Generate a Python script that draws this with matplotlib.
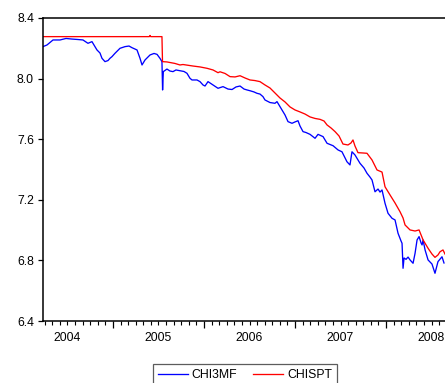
import matplotlib
matplotlib.use("Agg")
import matplotlib.pyplot as plt
import numpy as np

# ---- data (decimal years) ----
chi3mf_t = [2004.231, 2004.275, 2004.341, 2004.418, 2004.484, 2004.549, 2004.615, 2004.670,
            2004.725, 2004.769, 2004.824, 2004.857, 2004.879, 2004.912, 2004.945, 2004.967,
            2004.989, 2005.022, 2005.077, 2005.132, 2005.176, 2005.209, 2005.264, 2005.297,
            2005.319, 2005.352, 2005.407, 2005.451, 2005.484, 2005.516, 2005.538, 2005.545,
            2005.553, 2005.593, 2005.626, 2005.659, 2005.692, 2005.736, 2005.780, 2005.813,
            2005.846, 2005.868, 2005.923, 2005.956, 2005.989, 2006.011, 2006.044, 2006.099,
            2006.154, 2006.209, 2006.264, 2006.308, 2006.352, 2006.396, 2006.440, 2006.473,
            2006.505, 2006.549, 2006.582, 2006.615, 2006.648, 2006.670, 2006.725, 2006.780,
            2006.802, 2006.835, 2006.868, 2006.890, 2006.923, 2006.967, 2007.000, 2007.033,
            2007.055, 2007.088, 2007.121, 2007.165, 2007.220, 2007.253, 2007.308, 2007.352,
            2007.418, 2007.473, 2007.516, 2007.571, 2007.604, 2007.626, 2007.659, 2007.714,
            2007.758, 2007.791, 2007.824, 2007.846, 2007.879, 2007.912, 2007.934, 2007.956,
            2007.989, 2008.022, 2008.066, 2008.099, 2008.132, 2008.165, 2008.176, 2008.187,
            2008.198, 2008.220, 2008.242, 2008.264, 2008.297, 2008.319, 2008.341, 2008.363,
            2008.385, 2008.396, 2008.407, 2008.429, 2008.462, 2008.505, 2008.538, 2008.571,
            2008.615, 2008.637]
chi3mf_v = [8.211, 8.222, 8.255, 8.255, 8.265, 8.261, 8.258, 8.255,
            8.233, 8.244, 8.189, 8.169, 8.134, 8.112, 8.119, 8.134,
            8.145, 8.167, 8.200, 8.211, 8.215, 8.204, 8.189, 8.134,
            8.090, 8.123, 8.156, 8.166, 8.160, 8.134, 8.112, 7.925,
            8.046, 8.063, 8.050, 8.046, 8.057, 8.052, 8.047, 8.035,
            8.002, 7.991, 7.991, 7.980, 7.958, 7.951, 7.980, 7.958,
            7.936, 7.947, 7.931, 7.928, 7.945, 7.951, 7.931, 7.925,
            7.920, 7.912, 7.903, 7.898, 7.881, 7.859, 7.842, 7.837,
            7.848, 7.815, 7.782, 7.760, 7.716, 7.705, 7.714, 7.722,
            7.687, 7.650, 7.644, 7.632, 7.606, 7.632, 7.617, 7.573,
            7.557, 7.529, 7.517, 7.451, 7.430, 7.517, 7.496, 7.441,
            7.410, 7.375, 7.350, 7.331, 7.253, 7.271, 7.251, 7.265,
            7.177, 7.111, 7.078, 7.067, 6.979, 6.928, 6.913, 6.748,
            6.816, 6.807, 6.822, 6.803, 6.781, 6.847, 6.935, 6.957,
            6.915, 6.902, 6.935, 6.869, 6.803, 6.776, 6.715, 6.792,
            6.824, 6.783]

chispt_t = [2004.231, 2005.400, 2005.407, 2005.414, 2005.538, 2005.544, 2005.593, 2005.681,
            2005.736, 2005.769, 2005.879, 2005.956, 2006.033, 2006.099, 2006.154, 2006.176,
            2006.231, 2006.286, 2006.341, 2006.396, 2006.451, 2006.505, 2006.560, 2006.615,
            2006.670, 2006.725, 2006.780, 2006.835, 2006.890, 2006.945, 2007.000, 2007.055,
            2007.110, 2007.165, 2007.220, 2007.275, 2007.319, 2007.352, 2007.396, 2007.440,
            2007.484, 2007.527, 2007.582, 2007.615, 2007.637, 2007.659, 2007.692, 2007.747,
            2007.791, 2007.846, 2007.901, 2007.956, 2007.989, 2008.044, 2008.099, 2008.154,
            2008.187, 2008.209, 2008.264, 2008.319, 2008.363, 2008.407, 2008.462, 2008.505,
            2008.538, 2008.571, 2008.593, 2008.626, 2008.648]
chispt_v = [8.277, 8.277, 8.285, 8.277, 8.277, 8.112, 8.110, 8.100,
            8.090, 8.093, 8.083, 8.077, 8.068, 8.057, 8.039, 8.045,
            8.034, 8.013, 8.011, 8.019, 8.004, 7.991, 7.987, 7.980,
            7.958, 7.938, 7.905, 7.872, 7.846, 7.813, 7.793, 7.780,
            7.766, 7.747, 7.737, 7.731, 7.720, 7.694, 7.674, 7.650,
            7.621, 7.568, 7.562, 7.575, 7.595, 7.555, 7.511, 7.509,
            7.507, 7.463, 7.397, 7.383, 7.286, 7.232, 7.179, 7.121,
            7.080, 7.034, 7.001, 6.994, 7.001, 6.935, 6.880, 6.842,
            6.820, 6.836, 6.857, 6.869, 6.842]

series_names = ["CHI3MF", "CHISPT"]
years = [2004, 2005, 2006, 2007, 2008]
y_ticks = [6.4, 6.8, 7.2, 7.6, 8.0, 8.4]

# ---- figure ----
plt.rcParams['font.family'] = ['Liberation Sans', 'DejaVu Sans']
W, H = 445, 383
fig = plt.figure(figsize=(W / 100, H / 100), dpi=100)
ax = fig.add_axes([43 / W, 1 - 321 / H, 1 - 43 / W, (321 - 18) / H])

l1, = ax.plot(chi3mf_t, chi3mf_v, color='#0000ff', lw=0.95, label=series_names[0])
l2, = ax.plot(chispt_t, chispt_v, color='#ff0000', lw=0.95, label=series_names[1])

for s in ['left', 'bottom', 'top']:
    ax.spines[s].set_linewidth(1.1)
    ax.spines[s].set_color('black')
ax.spines['right'].set_visible(False)

ax.set_yticks(y_ticks)
ax.set_yticklabels([f"{v:.1f}" for v in y_ticks])
ax.tick_params(axis='y', direction='out', length=3.5, width=0.9, pad=3.0,
               labelsize=8.8, colors='black')

# year-start major ticks, monthly minor ticks, no labels
ax.set_xticks([float(y) for y in years])
ax.set_xticklabels([])
months = [y + m / 12 for y in range(2004, 2009) for m in range(12)]
ax.set_xticks(months, minor=True)
ax.tick_params(axis='x', which='major', direction='out', length=5, width=0.9)
ax.tick_params(axis='x', which='minor', direction='out', length=3, width=0.8)

# year labels centred in each year
sec = ax.secondary_xaxis('bottom')
sec.set_xticks([y + 0.5 for y in years])
sec.set_xticklabels([str(y) for y in years])
sec.tick_params(length=0, pad=8, labelsize=8.8)
sec.spines['bottom'].set_visible(False)

# limits last so tick setting does not expand them
ax.set_xlim(2004.231, 2008.648)
ax.set_ylim(6.4, 8.4)

leg = fig.legend(handles=[l1, l2], loc='upper center', ncol=2,
                 bbox_to_anchor=(245 / W, 1 - 364 / H), fontsize=8.8,
                 frameon=True, fancybox=False, edgecolor='#333333',
                 handlelength=2.4, handletextpad=0.35, columnspacing=1.3,
                 borderpad=0.45, borderaxespad=0)
leg.get_frame().set_linewidth(0.9)

fig.savefig('out.png', dpi=100)
